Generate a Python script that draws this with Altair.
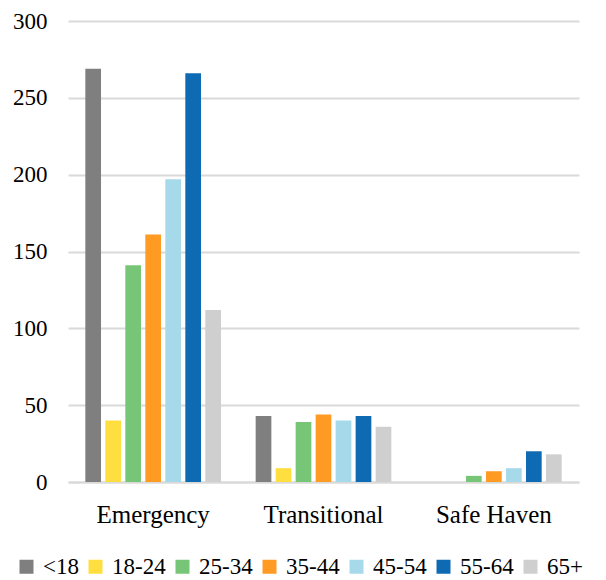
import altair as alt
import pandas as pd

# Shelter program types and age groups
programs = ["Emergency", "Transitional", "Safe Haven"]
age_groups = ["<18", "18-24", "25-34", "35-44", "45-54", "55-64", "65+"]

# Persons served per age group, one list per program
emergency = [269, 40, 141, 161, 197, 266, 112]
transitional = [43, 9, 39, 44, 40, 43, 36]
safe_haven = [0, 0, 4, 7, 9, 20, 18]

palette = ["#7f7f7f", "#ffdf3f", "#77c677", "#ff9a22", "#a6d9ea", "#0e6bb3", "#d0cfd0"]

rows = []
for prog, vals in zip(programs, [emergency, transitional, safe_haven]):
    for age, v in zip(age_groups, vals):
        rows.append({"Program": prog, "Age": age, "Count": v})
df = pd.DataFrame(rows)

FONT = "Liberation Serif"

chart = (
    alt.Chart(df)
    .mark_bar()
    .encode(
        x=alt.X(
            "Program:N",
            sort=programs,
            title=None,
            scale=alt.Scale(paddingInner=0.18, paddingOuter=0.09),
            axis=alt.Axis(
                labelAngle=0,
                labelFontSize=25,
                labelPadding=20,
                labelFont=FONT,
                ticks=False,
                domain=True,
                domainColor="#d9d9d9",
                domainWidth=2,
                grid=False,
            ),
        ),
        xOffset=alt.XOffset(
            "Age:N",
            sort=age_groups,
            scale=alt.Scale(paddingInner=0.215, paddingOuter=0.1),
        ),
        y=alt.Y(
            "Count:Q",
            title=None,
            scale=alt.Scale(domain=[0, 300], nice=False),
            axis=alt.Axis(
                values=[0, 50, 100, 150, 200, 250, 300],
                labelFontSize=23,
                labelPadding=21,
                labelFont=FONT,
                ticks=False,
                domain=False,
                gridColor="#d9d9d9",
                gridWidth=2,
            ),
        ),
        color=alt.Color(
            "Age:N",
            sort=age_groups,
            scale=alt.Scale(domain=age_groups, range=palette),
            legend=alt.Legend(
                title=None,
                orient="none",
                direction="horizontal",
                columns=7,
                legendX=-53,
                legendY=534,
                symbolType="square",
                symbolSize=196,
                symbolStrokeWidth=0,
                labelFontSize=23,
                labelFont=FONT,
                labelOffset=5,
                columnPadding=5,
                padding=0,
            ),
        ),
    )
    .properties(
        width=511,
        height=461,
        autosize=alt.AutoSizeParams(type="none"),
        padding={"left": 68, "top": 21, "right": 27, "bottom": 98},
    )
    .configure(font=FONT)
    .configure_axis(labelColor="#000000")
    .configure_legend(labelColor="#000000")
    .configure_view(stroke=None)
)

chart.save("out.html", embed_options={"renderer": "svg", "actions": False})
